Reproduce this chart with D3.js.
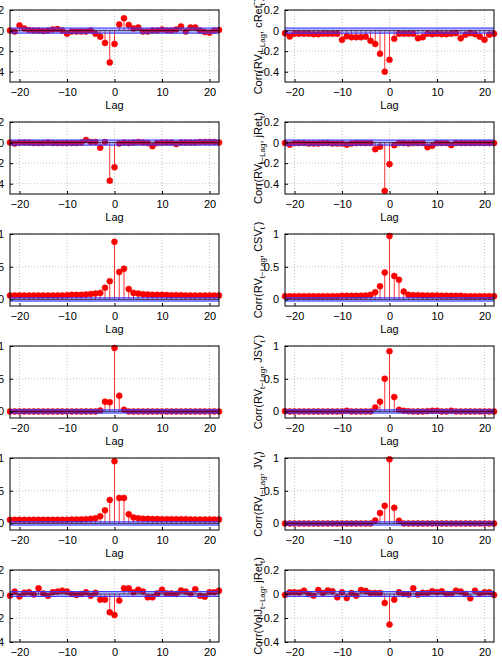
<!DOCTYPE html>
<html>
<head>
<meta charset="utf-8">
<script src="https://cdn.jsdelivr.net/npm/d3@7"></script>
<style>
  body { margin: 0; background: #fff; }
  text { font-family: "Liberation Sans", Arial, sans-serif; }
</style>
</head>
<body>
<svg id="chart" width="502" height="660"></svg>
<script>
var lags = d3.range(-22, 23);

// correlation values, lag -22 .. 22
var rvCRetPos = [0, -0.01, 0.05, 0.02, 0.005, 0, 0, -0.005, 0, 0.01, 0.015, 0, -0.03, -0.01, -0.01, -0.01, -0.01, 0, -0.03, -0.06, -0.12, -0.31, -0.13,
  0.06, 0.12, 0.055, 0.02, 0.03, -0.01, -0.01, 0, 0, 0.01, 0, 0, 0.01, 0.04, -0.01, 0.03, 0.03, 0, -0.015, -0.02, 0, 0.005];
var rvCRetNeg = [-0.026, -0.058, -0.03, -0.03, -0.03, -0.03, -0.035, -0.035, -0.03, -0.03, -0.03, -0.03, -0.09, -0.055, -0.065, -0.065, -0.065, -0.06, -0.1, -0.13, -0.226, -0.40, -0.284,
  -0.08, -0.03, -0.03, -0.03, -0.03, -0.075, -0.065, -0.03, -0.035, -0.03, -0.035, -0.035, -0.03, -0.025, -0.075, -0.04, -0.025, -0.035, -0.06, -0.09, -0.04, -0.03];
var rvJRetPos = [0, -0.01, 0, 0, 0, -0.005, -0.005, -0.005, 0, -0.005, -0.005, -0.005, -0.005, -0.005, -0.005, 0, 0.025, 0.005, 0.005, -0.05, 0.005, -0.37, -0.24,
  -0.01, 0, -0.005, 0, 0.005, 0, -0.005, -0.035, -0.005, 0, 0, 0, -0.015, 0, 0, 0, 0, 0.005, 0.005, 0.005, 0.005, 0];
var rvJRetNeg = [-0.005, -0.02, -0.005, -0.005, -0.005, -0.01, -0.01, -0.01, -0.005, -0.005, -0.01, -0.01, -0.01, -0.02, -0.01, -0.005, -0.005, -0.005, -0.005, -0.065, -0.04, -0.47, -0.21,
  -0.025, -0.005, -0.005, -0.01, -0.005, -0.005, -0.005, -0.045, -0.03, -0.005, -0.005, -0.005, -0.025, -0.005, -0.005, -0.005, -0.005, -0.005, -0.005, -0.005, -0.005, -0.005];
var rvCSVPos = [0.06, 0.062, 0.062, 0.062, 0.06, 0.06, 0.062, 0.06, 0.062, 0.06, 0.062, 0.062, 0.065, 0.07, 0.07, 0.07, 0.075, 0.085, 0.09, 0.10, 0.18, 0.28, 0.88,
  0.42, 0.47, 0.16, 0.10, 0.09, 0.08, 0.075, 0.072, 0.07, 0.07, 0.068, 0.065, 0.065, 0.065, 0.062, 0.06, 0.06, 0.06, 0.06, 0.06, 0.062, 0.06];
var rvCSVNeg = [0.05, 0.05, 0.05, 0.05, 0.05, 0.05, 0.05, 0.05, 0.05, 0.05, 0.05, 0.05, 0.055, 0.055, 0.055, 0.055, 0.058, 0.06, 0.07, 0.11, 0.20, 0.41, 0.97,
  0.36, 0.30, 0.12, 0.07, 0.065, 0.065, 0.062, 0.06, 0.06, 0.06, 0.058, 0.055, 0.055, 0.055, 0.055, 0.05, 0.05, 0.05, 0.05, 0.05, 0.05, 0.05];
var rvJSVPos = [0, 0, 0, 0, 0, 0, 0, 0, 0, 0, 0, 0, 0, 0, 0, 0, 0, 0, 0, 0.015, 0.15, 0.14, 0.97,
  0.24, 0.025, 0, 0, 0, 0, 0, 0, 0, 0, 0, 0, 0, 0, 0, 0, 0, 0, 0, 0, 0, 0];
var rvJSVNeg = [0.005, 0, 0, 0, 0, 0, 0, 0, 0, 0, 0, 0, 0, 0.01, 0, 0, 0, 0, 0, 0.06, 0.15, 0.50, 0.92,
  0.22, 0.025, 0.01, 0.005, 0, 0, 0, 0.005, 0.01, 0.01, 0, 0, 0.01, 0, 0, 0, 0, 0, 0, 0, 0, 0];
var rvJVPos = [0.055, 0.055, 0.055, 0.055, 0.055, 0.055, 0.055, 0.055, 0.055, 0.055, 0.055, 0.055, 0.055, 0.06, 0.06, 0.062, 0.065, 0.07, 0.08, 0.11, 0.20, 0.36, 0.95,
  0.39, 0.39, 0.14, 0.09, 0.08, 0.072, 0.07, 0.068, 0.068, 0.065, 0.065, 0.065, 0.065, 0.065, 0.065, 0.062, 0.06, 0.06, 0.06, 0.06, 0.062, 0.06];
var rvJVNeg = [0, 0, 0, 0, 0, 0, 0, 0, 0, 0, 0, 0, 0, 0, 0, 0, 0, 0, 0, 0.045, 0.16, 0.27, 0.98,
  0.24, 0.04, 0, 0, 0, 0, 0, 0, 0, 0, 0, 0, 0, 0, 0, 0, 0, 0, 0, 0, 0, 0];
var volJRetPos = [-0.014, 0.02, -0.02, 0.01, 0.015, -0.005, 0.047, 0.005, -0.015, 0.015, 0.02, 0.028, 0.02, 0, -0.008, 0, 0.015, -0.014, 0.01, -0.047, -0.047, -0.153, -0.175,
  -0.055, 0.047, 0.047, 0.015, 0.036, 0.02, -0.028, -0.028, 0.005, 0.036, 0.005, 0.005, 0, 0.03, 0.02, 0, 0.04, -0.014, -0.022, 0.015, 0.015, 0.028];
var volJRetNeg = [-0.008, 0.014, 0.014, 0.012, 0.028, 0, -0.014, 0.033, 0.008, 0.03, 0.022, -0.028, 0.014, -0.033, 0.008, -0.014, 0.033, 0.025, 0.008, 0.008, 0.008, -0.075, -0.255,
  -0.047, 0.014, 0, -0.005, 0.047, -0.005, 0.01, 0.008, 0.022, 0.014, 0.022, 0, 0, 0.028, 0.02, 0, -0.036, 0.028, 0, 0.014, 0.014, -0.008];

var panelSeries = [
  [rvCRetPos, rvCRetNeg],
  [rvJRetPos, rvJRetNeg],
  [rvCSVPos, rvCSVNeg],
  [rvJSVPos, rvJSVNeg],
  [rvJVPos, rvJVNeg],
  [volJRetPos, volJRetNeg]
];
var rowDomains = [[-0.5, 0.2], [-0.5, 0.2], [-0.1, 1], [-0.1, 1], [-0.1, 1], [-0.4, 0.2]];
var rowTicks = [[-0.4, -0.2, 0, 0.2], [-0.4, -0.2, 0, 0.2], [0, 0.5, 1], [0, 0.5, 1], [0, 0.5, 1], [-0.4, -0.2, 0, 0.2]];
var rowBands = [0.025, 0.025, 0.025, 0.025, 0.025, 0.02];
var xTicks = [-20, -10, 0, 10, 20];
// [prefix, subscript, series, superscript, subscript]
var yLabels = [
  [["RV", "cRet", "+"], ["RV", "cRet", "\u2212"]],
  [["RV", "jRet", "+"], ["RV", "jRet", ""]],
  [["RV", "CSV", "+"], ["RV", "CSV", "\u2212"]],
  [["RV", "JSV", "+"], ["RV", "JSV", "\u2212"]],
  [["RV", "JV", "+"], ["RV", "JV", ""]],
  [["VolJ", "jRet", "+"], ["VolJ", "jRet", ""]]
];

var svg = d3.select('#chart');
var colX = [10, 285];
var plotW = 209, plotH = 72, rowStep = 112, top0 = 10;
var fmt = (d) => d === 0 ? '0' : String(d).replace('-', '\u2212');

panelSeries.forEach(function(pair, r) {
  pair.forEach(function(values, c) {
    var x0 = colX[c], y0 = top0 + r * rowStep;
    var g = svg.append('g').attr('transform', 'translate(' + x0 + ',' + y0 + ')');
    var x = d3.scaleLinear().domain([-22, 22]).range([0, plotW]);
    var y = d3.scaleLinear().domain(rowDomains[r]).range([plotH, 0]);
    var data = lags.map((l, i) => ({lag: l, v: values[i]}));

    // grid
    g.selectAll('.gx').data(xTicks).enter().append('line')
      .attr('x1', (d) => x(d)).attr('x2', (d) => x(d))
      .attr('y1', 0).attr('y2', plotH)
      .attr('stroke', '#999').attr('stroke-width', 0.6).attr('stroke-dasharray', '1,2');
    g.selectAll('.gy').data(rowTicks[r]).enter().append('line')
      .attr('x1', 0).attr('x2', plotW)
      .attr('y1', (d) => y(d)).attr('y2', (d) => y(d))
      .attr('stroke', '#999').attr('stroke-width', 0.6).attr('stroke-dasharray', '1,2');

    // stems
    g.selectAll('.stem').data(data).enter().append('line')
      .attr('x1', (d) => x(d.lag)).attr('x2', (d) => x(d.lag))
      .attr('y1', y(0)).attr('y2', (d) => y(d.v))
      .attr('stroke', '#ff0000').attr('stroke-width', 0.8);
    g.selectAll('.dot').data(data).enter().append('circle')
      .attr('cx', (d) => x(d.lag)).attr('cy', (d) => y(d.v)).attr('r', 3)
      .attr('fill', '#f00').attr('stroke', '#e00').attr('stroke-width', 0.5);

    // confidence band
    var b = rowBands[r];
    g.append('rect')
      .attr('x', 0).attr('width', plotW)
      .attr('y', y(b)).attr('height', y(-b) - y(b))
      .attr('fill', '#3333ff').attr('fill-opacity', 0.35);
    g.selectAll('.band').data([b, -b]).enter().append('line')
      .attr('x1', 0).attr('x2', plotW)
      .attr('y1', (d) => y(d)).attr('y2', (d) => y(d))
      .attr('stroke', '#3333ff').attr('stroke-width', 1);
    g.append('line')
      .attr('x1', 0).attr('x2', plotW).attr('y1', y(0)).attr('y2', y(0))
      .attr('stroke', '#000').attr('stroke-width', 0.6);

    // axes
    g.append('g').attr('transform', 'translate(0,' + plotH + ')')
      .call(d3.axisBottom(x).tickValues(xTicks).tickFormat(fmt).tickSizeInner(-3).tickSizeOuter(0).tickPadding(6))
      .call((a) => a.select('.domain').remove())
      .call((a) => a.selectAll('text').attr('font-size', 11).attr('fill', '#000'));
    g.append('g')
      .call(d3.axisLeft(y).tickValues(rowTicks[r]).tickFormat(fmt).tickSizeInner(-3).tickSizeOuter(0).tickPadding(6))
      .call((a) => a.select('.domain').remove())
      .call((a) => a.selectAll('text').attr('font-size', 11).attr('fill', '#000'));
    g.append('rect').attr('width', plotW).attr('height', plotH)
      .attr('fill', 'none').attr('stroke', '#000').attr('stroke-width', 1);

    g.append('text').attr('x', plotW / 2).attr('y', plotH + 27)
      .attr('text-anchor', 'middle').attr('font-size', 11).text('Lag');

    var lab = yLabels[r][c];
    var t = g.append('text')
      .attr('transform', 'translate(-23,' + (plotH / 2) + ') rotate(-90)')
      .attr('text-anchor', 'middle').attr('font-size', 11);
    t.append('tspan').text('Corr(' + lab[0]);
    t.append('tspan').attr('font-size', 8).attr('dy', 3).text('t\u2212Lag');
    t.append('tspan').attr('dy', -3).text(', ' + lab[1]);
    if (lab[2]) {
      t.append('tspan').attr('font-size', 8).attr('dy', 3).text('t');
      t.append('tspan').attr('font-size', 8).attr('dx', -3).attr('dy', -8).text(lab[2]);
      t.append('tspan').attr('dy', 5).text(')');
    } else {
      t.append('tspan').attr('font-size', 8).attr('dy', 3).text('t');
      t.append('tspan').attr('dy', -3).text(')');
    }
  });
});
</script>
</body>
</html>
